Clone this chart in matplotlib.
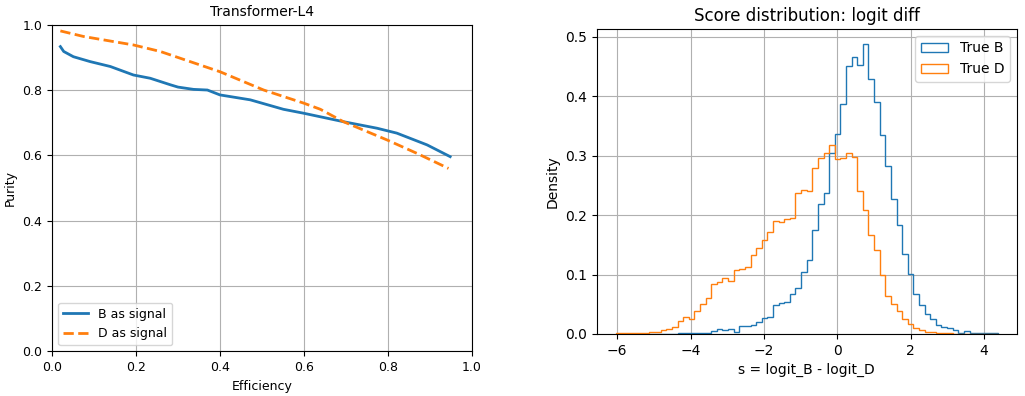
import numpy as np
import matplotlib
matplotlib.use('Agg')
import matplotlib.pyplot as plt

# purity vs efficiency curves
eff_b = [0.02, 0.028, 0.051, 0.091, 0.139, 0.194, 0.234, 0.282, 0.30, 0.337, 0.37,
         0.40, 0.472, 0.551, 0.599, 0.694, 0.774, 0.821, 0.893, 0.948]
pur_b = [0.933, 0.918, 0.902, 0.887, 0.872, 0.846, 0.836, 0.816, 0.809, 0.802, 0.800,
         0.785, 0.770, 0.741, 0.729, 0.703, 0.683, 0.668, 0.632, 0.596]

eff_d = [0.02, 0.075, 0.139, 0.194, 0.258, 0.329, 0.40, 0.504, 0.599, 0.639,
         0.694, 0.798, 0.869, 0.944]
pur_d = [0.981, 0.964, 0.950, 0.938, 0.918, 0.887, 0.856, 0.800, 0.760, 0.741,
         0.703, 0.647, 0.606, 0.560]

# score histogram, density per bin
s_min, s_max, n_bins = -6.038, 4.366, 68

dens_b = [0, 0, 0, 0, 0, 0, 0, 0, 0, 0, 0,
          0.001, 0.001, 0.001, 0.001,
          0.002, 0.002, 0.005, 0.008, 0.006, 0.008, 0.003, 0.013, 0.014, 0.015,
          0.020, 0.027, 0.029, 0.049, 0.052, 0.054, 0.067, 0.077, 0.105, 0.125,
          0.175, 0.218, 0.238, 0.305, 0.336, 0.388, 0.451, 0.467, 0.453, 0.489, 0.430,
          0.391, 0.335, 0.282, 0.228, 0.183, 0.134, 0.101, 0.067, 0.049, 0.033,
          0.025, 0.015, 0.012, 0.010, 0.006, 0.002, 0.005, 0.002, 0.001, 0.001,
          0.001, 0.001]

dens_d = [0.001, 0.001, 0.001, 0.001, 0.001, 0.002, 0.003, 0.003, 0.006, 0.008,
          0.011, 0.022, 0.028, 0.026, 0.038, 0.051, 0.061, 0.084, 0.088, 0.095,
          0.090, 0.107, 0.110, 0.112, 0.133, 0.144, 0.158, 0.172, 0.190, 0.189,
          0.194, 0.196, 0.237, 0.242, 0.240, 0.279, 0.296, 0.305, 0.318, 0.295,
          0.297, 0.304, 0.298, 0.241, 0.208, 0.167,
          0.141, 0.099, 0.064, 0.050, 0.039, 0.025, 0.017, 0.010, 0.007, 0.003,
          0.003, 0.001, 0.001, 0.001,
          0, 0, 0, 0, 0, 0, 0, 0]

edges = np.linspace(s_min, s_max, n_bins + 1)
centers = 0.5 * (edges[:-1] + edges[1:])

fig = plt.figure(figsize=(10.25, 3.96), dpi=100)

# left: purity vs efficiency
ax1 = fig.add_axes([0.0507, 0.1129, 0.4098, 0.8247])
ax1.plot(eff_b, pur_b, '-', color='#1f77b4', lw=2, label='B as signal')
ax1.plot(eff_d, pur_d, '--', color='#ff7f0e', lw=2, label='D as signal')
ax1.set_xlim(0, 1)
ax1.set_ylim(0, 1)
ax1.set_xlabel('Efficiency', fontsize=9)
ax1.set_ylabel('Purity', fontsize=9)
ax1.set_title('Transformer-L4', fontsize=10)
ax1.tick_params(labelsize=9)
ax1.grid(True)
ax1.legend(loc='lower left', fontsize=9)

# right: score distributions
ax2 = fig.add_axes([0.5821, 0.1566, 0.4098, 0.7702])
ax2.hist(centers, bins=edges, weights=dens_b, histtype='step', label='True B')
ax2.hist(centers, bins=edges, weights=dens_d, histtype='step', label='True D')
ax2.set_xlabel('s = logit_B - logit_D')
ax2.set_ylabel('Density')
ax2.set_title('Score distribution: logit diff')
ax2.grid(True)
ax2.legend(loc='upper right')

fig.savefig('out.png', dpi=100)
